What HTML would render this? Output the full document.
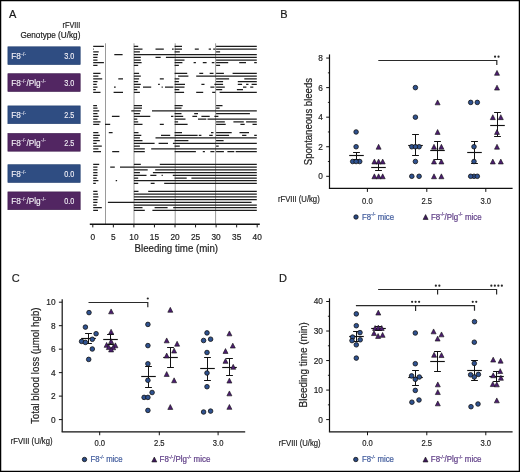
<!DOCTYPE html>
<html><head><meta charset="utf-8"><style>
html,body{margin:0;padding:0;background:#fff;}
body{width:520px;height:472px;overflow:hidden;}
svg{display:block;font-family:"Liberation Sans", sans-serif;will-change:transform;}
</style></head><body>
<svg width="520" height="472" viewBox="0 0 520 472">
<rect x="0" y="0" width="520" height="472" fill="#fff"/>
<text x="9" y="18" font-size="11" text-anchor="start" fill="#1a1a1a"  stroke="#1a1a1a" stroke-width="0.18">A</text>
<text x="80.4" y="28.2" font-size="8.2" text-anchor="end" fill="#1a1a1a" textLength="17.8" lengthAdjust="spacingAndGlyphs"  stroke="#1a1a1a" stroke-width="0.18">rFVIII</text>
<text x="80.4" y="38.3" font-size="8.2" text-anchor="end" fill="#1a1a1a" textLength="60.0" lengthAdjust="spacingAndGlyphs"  stroke="#1a1a1a" stroke-width="0.18">Genotype (U/kg)</text>
<rect x="7.9" y="46.8" width="72.3" height="17.8" fill="#2f4d82" stroke="#223f6e" stroke-width="0.6"/>
<text transform="translate(11.3 59.25) scale(0.93 1)" font-size="8.9" fill="#f4f2f8" stroke="#f4f2f8" stroke-width="0.12">F8<tspan font-size="5.0" dx="0.3" dy="-3.6" letter-spacing="0.3">-/-</tspan></text>
<text transform="translate(74.4 59.25) scale(0.82 1)" font-size="8.9" text-anchor="end" fill="#f4f2f8"  stroke="#f4f2f8" stroke-width="0.12">3.0</text>
<rect x="7.9" y="73.7" width="72.3" height="17.8" fill="#522662" stroke="#3d1a4c" stroke-width="0.6"/>
<text transform="translate(11.3 86.15) scale(0.93 1)" font-size="8.9" fill="#f4f2f8" stroke="#f4f2f8" stroke-width="0.12">F8<tspan font-size="5.0" dx="0.3" dy="-3.6" letter-spacing="0.3">-/-</tspan><tspan dy="3.6">/Plg</tspan><tspan font-size="5.0" dx="0.3" dy="-3.6" letter-spacing="0.3">-/-</tspan></text>
<text transform="translate(74.4 86.15) scale(0.82 1)" font-size="8.9" text-anchor="end" fill="#f4f2f8"  stroke="#f4f2f8" stroke-width="0.12">3.0</text>
<rect x="7.9" y="105.89999999999999" width="72.3" height="17.8" fill="#2f4d82" stroke="#223f6e" stroke-width="0.6"/>
<text transform="translate(11.3 118.35) scale(0.93 1)" font-size="8.9" fill="#f4f2f8" stroke="#f4f2f8" stroke-width="0.12">F8<tspan font-size="5.0" dx="0.3" dy="-3.6" letter-spacing="0.3">-/-</tspan></text>
<text transform="translate(74.4 118.35) scale(0.82 1)" font-size="8.9" text-anchor="end" fill="#f4f2f8"  stroke="#f4f2f8" stroke-width="0.12">2.5</text>
<rect x="7.9" y="133.4" width="72.3" height="17.8" fill="#522662" stroke="#3d1a4c" stroke-width="0.6"/>
<text transform="translate(11.3 145.85) scale(0.93 1)" font-size="8.9" fill="#f4f2f8" stroke="#f4f2f8" stroke-width="0.12">F8<tspan font-size="5.0" dx="0.3" dy="-3.6" letter-spacing="0.3">-/-</tspan><tspan dy="3.6">/Plg</tspan><tspan font-size="5.0" dx="0.3" dy="-3.6" letter-spacing="0.3">-/-</tspan></text>
<text transform="translate(74.4 145.85) scale(0.82 1)" font-size="8.9" text-anchor="end" fill="#f4f2f8"  stroke="#f4f2f8" stroke-width="0.12">2.5</text>
<rect x="7.9" y="164.70000000000002" width="72.3" height="17.8" fill="#2f4d82" stroke="#223f6e" stroke-width="0.6"/>
<text transform="translate(11.3 177.15) scale(0.93 1)" font-size="8.9" fill="#f4f2f8" stroke="#f4f2f8" stroke-width="0.12">F8<tspan font-size="5.0" dx="0.3" dy="-3.6" letter-spacing="0.3">-/-</tspan></text>
<text transform="translate(74.4 177.15) scale(0.82 1)" font-size="8.9" text-anchor="end" fill="#f4f2f8"  stroke="#f4f2f8" stroke-width="0.12">0.0</text>
<rect x="7.9" y="191.9" width="72.3" height="17.8" fill="#522662" stroke="#3d1a4c" stroke-width="0.6"/>
<text transform="translate(11.3 204.35) scale(0.93 1)" font-size="8.9" fill="#f4f2f8" stroke="#f4f2f8" stroke-width="0.12">F8<tspan font-size="5.0" dx="0.3" dy="-3.6" letter-spacing="0.3">-/-</tspan><tspan dy="3.6">/Plg</tspan><tspan font-size="5.0" dx="0.3" dy="-3.6" letter-spacing="0.3">-/-</tspan></text>
<text transform="translate(74.4 204.35) scale(0.82 1)" font-size="8.9" text-anchor="end" fill="#f4f2f8"  stroke="#f4f2f8" stroke-width="0.12">0.0</text>
<line x1="105.5" y1="43.3" x2="105.5" y2="224" stroke="#9a9a9a" stroke-width="1.0"/>
<line x1="134.0" y1="43.3" x2="134.0" y2="224" stroke="#9a9a9a" stroke-width="1.0"/>
<line x1="175.2" y1="43.3" x2="175.2" y2="224" stroke="#9a9a9a" stroke-width="1.0"/>
<line x1="215.6" y1="43.3" x2="215.6" y2="224" stroke="#9a9a9a" stroke-width="1.0"/>
<path d="M93.2 46.45H103.9M133.9 46.45H138.2M174.6 46.45H182M216.1 46.45H256.8M93.2 49.16H93.9M133.9 49.16H142.5M155.5 49.16H163.8M172 49.16H173.7M174.6 49.16H182M194.8 49.16H198.8M208.7 49.16H211M213.2 49.16H215.3M216.1 49.16H256.8M93.2 51.87H98.7M133.9 51.87H139.9M174.6 51.87H179.8M216.1 51.87H220.1M93.2 54.58H98M114.3 54.58H122.6M133.9 54.58H256.8M93.2 57.29H97.5M133.9 57.29H140.8M155.5 57.29H160.7M165.9 57.29H256.8M93.2 60.0H97.5M133.9 60.0H140.8M174.6 60.0H184.5M216.1 60.0H256.8M93.2 62.71H103.9M133.9 62.71H141.6M174.6 62.71H182.4M193.6 62.71H195.9M202.8 62.71H206.6M211.8 62.71H214.4M216.1 62.71H228.2M239.2 62.71H246M254.2 62.71H256.8M93.2 65.42H97.5M133.9 65.42H138.2M174.6 65.42H178.9M216.1 65.42H220.1M93.2 73.45H100.5M133.9 73.45H139.1M174.6 73.45H187.2M199.3 73.45H203.2M209.7 73.45H213.5M216.1 73.45H223.9M232.6 73.45H256.8M93.2 76.16H98.4M133.9 76.16H140.8M178.1 76.16H188.4M196.2 76.16H256.8M93.2 78.87H102.2M118.3 78.87H123M133.9 78.87H139.1M159.8 78.87H163.8M174.6 78.87H179.3M216.1 78.87H229.1M244.3 78.87H256.8M93.2 81.58H97.5M133.9 81.58H138.2M174.6 81.58H178.9M216.1 81.58H223.1M237.8 81.58H256.8M93.2 84.29H96.7M133.9 84.29H140.8M158.1 84.29H159.8M174.6 84.29H185M201.4 84.29H204.5M214.4 84.29H223.1M237.8 84.29H242.1M246.1 84.29H248.5M251.6 84.29H256.8M93.2 87.0H97.5M114 87.0H115.7M133.9 87.0H139.9M143 87.0H151.2M161.6 87.0H162.8M165 87.0H173.4M174.6 87.0H184.5M210.4 87.0H214.4M216.1 87.0H224.8M243 87.0H246.4M250.2 87.0H253.3M93.2 89.71H95.8M133.9 89.71H137.3M174.6 89.71H179.3M216.1 89.71H222.2M236.9 89.71H243M93.2 92.42H100.5M113.6 92.42H123M133.9 92.42H139.9M174.6 92.42H184.1M196.2 92.42H203.2M212.2 92.42H215.3M219.6 92.42H256.8M93.2 105.5H97M133.9 105.5H142M174.6 105.5H182.7M216.1 105.5H222.5M93.2 108.21H97.5M133.9 108.21H142M174.6 108.21H181.5M216.1 108.21H219.6M93.2 110.92H99.2M131.3 110.92H140.8M152 110.92H256.8M93.2 113.63H97.5M133.9 113.63H139.9M174.6 113.63H181.5M194.2 113.63H198M216.1 113.63H249.9M93.2 116.34H98.7M111.9 116.34H119.5M133.9 116.34H150.3M171 116.34H173.4M174.6 116.34H183.2M192.4 116.34H197.1M201.4 116.34H209.7M214.4 116.34H218.4M93.2 119.05H97.5M133.9 119.05H137.3M174.6 119.05H185.5M198 119.05H206.3M207.5 119.05H256.8M93.2 121.76H100.5M133.9 121.76H138.2M174.6 121.76H178.1M216.1 121.76H224.8M233.4 121.76H243.8M246.1 121.76H256.8M93.2 124.47H99.3M105 124.47H110.2M133.9 124.47H142.5M159.8 124.47H163.8M174.6 124.47H187.6M216.1 124.47H225.7M240.4 124.47H244.7M252.5 124.47H256.8M93.2 132.55H98.4M108.8 132.55H112.6M133.9 132.55H138.5M174.6 132.55H182M211 132.55H213.5M216.1 132.55H231.7M239.5 132.55H249M93.2 135.26H99.8M133.9 135.26H141.3M161 135.26H170.2M174.6 135.26H197.6M198.8 135.26H201.4M209.2 135.26H212.7M216.1 135.26H229.1M242.1 135.26H246.4M254.2 135.26H256.8M93.2 137.97H98.4M133.9 137.97H139.9M155.5 137.97H256.8M93.2 140.68H99.8M133.9 140.68H142.5M174.6 140.68H188.4M216.1 140.68H223.6M93.2 143.39H96.7M133.9 143.39H154.6M158.6 143.39H168M172.9 143.39H256.8M93.2 146.1H101.8M133.9 146.1H139.9M174.6 146.1H179.8M216.1 146.1H218.7M93.2 148.81H98.4M133.9 148.81H144.8M151.2 148.81H256.8M93.2 151.52H101M112.2 151.52H119.2M133.9 151.52H144.8M174.6 151.52H195.9M202.8 151.52H204.9M210.4 151.52H214.4M216.1 151.52H223.9M227.4 151.52H234.3M235.7 151.52H256.8M93.2 164.45H99.2M133.9 164.45H140.8M159.8 164.45H256.8M93.2 167.16H97.5M110.2 167.16H114.8M120 167.16H256.8M93.2 169.87H97.5M133.9 169.87H147.7M155.2 169.87H256.8M93.2 172.58H97.5M133.9 172.58H139.9M152.9 172.58H256.8M93.2 175.29H97.5M133.9 175.29H146.5M150.3 175.29H156.4M161.6 175.29H162.8M172.8 175.29H256.8M93.2 178.0H96.7M133.9 178.0H138.2M174.6 178.0H186.7M191.4 178.0H256.8M93.2 180.71H98.4M115.7 180.71H117.1M133.9 180.71H256.8M93.2 183.42H95.8M133.9 183.42H138.2M150.7 183.42H154.6M164.2 183.42H256.8M93.2 191.45H97.5M133.9 191.45H138.5M148.2 191.45H256.8M93.2 194.16H98M133.9 194.16H256.8M93.2 196.87H98.4M133.9 196.87H256.8M93.2 199.58H97.5M133.9 199.58H256.8M93.2 202.29H97.5M107.9 202.29H251.6M93.2 205.0H96.7M133.9 205.0H256.8M93.2 207.71H101.8M133.9 207.71H142.5M154.6 207.71H167.6M173.2 207.71H256.8M93.2 210.42H98M133.9 210.42H144.8M152.4 210.42H256.8" stroke="#1c1c1c" stroke-width="1.25" fill="none"/>
<line x1="89.8" y1="224.2" x2="259.8" y2="224.2" stroke="#111" stroke-width="1.5"/>
<line x1="92.8" y1="224.1" x2="92.8" y2="227.4" stroke="#151515" stroke-width="1.0"/>
<text x="92.8" y="239.5" font-size="8.3" text-anchor="middle" fill="#1e1e1e"  stroke="#1e1e1e" stroke-width="0.18">0</text>
<line x1="113.35" y1="224.1" x2="113.35" y2="227.4" stroke="#151515" stroke-width="1.0"/>
<text x="113.35" y="239.5" font-size="8.3" text-anchor="middle" fill="#1e1e1e"  stroke="#1e1e1e" stroke-width="0.18">5</text>
<line x1="133.9" y1="224.1" x2="133.9" y2="227.4" stroke="#151515" stroke-width="1.0"/>
<text x="133.9" y="239.5" font-size="8.3" text-anchor="middle" fill="#1e1e1e"  stroke="#1e1e1e" stroke-width="0.18">10</text>
<line x1="154.45" y1="224.1" x2="154.45" y2="227.4" stroke="#151515" stroke-width="1.0"/>
<text x="154.45" y="239.5" font-size="8.3" text-anchor="middle" fill="#1e1e1e"  stroke="#1e1e1e" stroke-width="0.18">15</text>
<line x1="175.0" y1="224.1" x2="175.0" y2="227.4" stroke="#151515" stroke-width="1.0"/>
<text x="175.0" y="239.5" font-size="8.3" text-anchor="middle" fill="#1e1e1e"  stroke="#1e1e1e" stroke-width="0.18">20</text>
<line x1="195.55" y1="224.1" x2="195.55" y2="227.4" stroke="#151515" stroke-width="1.0"/>
<text x="195.55" y="239.5" font-size="8.3" text-anchor="middle" fill="#1e1e1e"  stroke="#1e1e1e" stroke-width="0.18">25</text>
<line x1="216.1" y1="224.1" x2="216.1" y2="227.4" stroke="#151515" stroke-width="1.0"/>
<text x="216.1" y="239.5" font-size="8.3" text-anchor="middle" fill="#1e1e1e"  stroke="#1e1e1e" stroke-width="0.18">30</text>
<line x1="236.65" y1="224.1" x2="236.65" y2="227.4" stroke="#151515" stroke-width="1.0"/>
<text x="236.65" y="239.5" font-size="8.3" text-anchor="middle" fill="#1e1e1e"  stroke="#1e1e1e" stroke-width="0.18">35</text>
<line x1="257.2" y1="224.1" x2="257.2" y2="227.4" stroke="#151515" stroke-width="1.0"/>
<text x="257.2" y="239.5" font-size="8.3" text-anchor="middle" fill="#1e1e1e"  stroke="#1e1e1e" stroke-width="0.18">40</text>
<text x="134.5" y="251.9" font-size="10.3" text-anchor="start" fill="#1e1e1e" textLength="83.6" lengthAdjust="spacingAndGlyphs" stroke="#1e1e1e" stroke-width="0.2">Bleeding time (min)</text>
<text x="280.2" y="18.2" font-size="11" text-anchor="start" fill="#1a1a1a"  stroke="#1a1a1a" stroke-width="0.18">B</text>
<line x1="329.5" y1="54.4" x2="329.5" y2="188.4" stroke="#111" stroke-width="1.2"/>
<line x1="328.9" y1="188.4" x2="512.6" y2="188.4" stroke="#111" stroke-width="1.25"/>
<line x1="326.2" y1="176.3" x2="329.5" y2="176.3" stroke="#111" stroke-width="1.0"/>
<text x="322.9" y="179.25" font-size="8.3" text-anchor="end" fill="#1e1e1e"  stroke="#1e1e1e" stroke-width="0.18">0</text>
<line x1="326.2" y1="146.74" x2="329.5" y2="146.74" stroke="#111" stroke-width="1.0"/>
<text x="322.9" y="149.69" font-size="8.3" text-anchor="end" fill="#1e1e1e"  stroke="#1e1e1e" stroke-width="0.18">2</text>
<line x1="326.2" y1="117.18" x2="329.5" y2="117.18" stroke="#111" stroke-width="1.0"/>
<text x="322.9" y="120.13" font-size="8.3" text-anchor="end" fill="#1e1e1e"  stroke="#1e1e1e" stroke-width="0.18">4</text>
<line x1="326.2" y1="87.62" x2="329.5" y2="87.62" stroke="#111" stroke-width="1.0"/>
<text x="322.9" y="90.57" font-size="8.3" text-anchor="end" fill="#1e1e1e"  stroke="#1e1e1e" stroke-width="0.18">6</text>
<line x1="326.2" y1="58.06" x2="329.5" y2="58.06" stroke="#111" stroke-width="1.0"/>
<text x="322.9" y="61.01" font-size="8.3" text-anchor="end" fill="#1e1e1e"  stroke="#1e1e1e" stroke-width="0.18">8</text>
<line x1="327.9" y1="161.52" x2="329.5" y2="161.52" stroke="#111" stroke-width="0.9"/>
<line x1="327.9" y1="131.96" x2="329.5" y2="131.96" stroke="#111" stroke-width="0.9"/>
<line x1="327.9" y1="102.4" x2="329.5" y2="102.4" stroke="#111" stroke-width="0.9"/>
<line x1="327.9" y1="72.84" x2="329.5" y2="72.84" stroke="#111" stroke-width="0.9"/>
<line x1="367.4" y1="188.4" x2="367.4" y2="191.9" stroke="#111" stroke-width="1.0"/>
<line x1="426.8" y1="188.4" x2="426.8" y2="191.9" stroke="#111" stroke-width="1.0"/>
<line x1="485.8" y1="188.4" x2="485.8" y2="191.9" stroke="#111" stroke-width="1.0"/>
<text x="367.4" y="203.8" font-size="8.4" text-anchor="middle" fill="#1e1e1e" textLength="10.6" lengthAdjust="spacingAndGlyphs"  stroke="#1e1e1e" stroke-width="0.18">0.0</text>
<text x="426.8" y="203.8" font-size="8.4" text-anchor="middle" fill="#1e1e1e" textLength="10.6" lengthAdjust="spacingAndGlyphs"  stroke="#1e1e1e" stroke-width="0.18">2.5</text>
<text x="485.8" y="203.8" font-size="8.4" text-anchor="middle" fill="#1e1e1e" textLength="10.6" lengthAdjust="spacingAndGlyphs"  stroke="#1e1e1e" stroke-width="0.18">3.0</text>
<text x="277.9" y="202.0" font-size="8.3" text-anchor="start" fill="#1e1e1e" textLength="41.8" lengthAdjust="spacingAndGlyphs"  stroke="#1e1e1e" stroke-width="0.18">rFVIII (U/kg)</text>
<text x="0" y="0" font-size="10.3" fill="#1e1e1e" stroke="#1e1e1e" stroke-width="0.2" text-anchor="middle" textLength="87.2" lengthAdjust="spacingAndGlyphs" transform="translate(312.1,121.6) rotate(-90)">Spontaneous bleeds</text>
<path d="M378.3 60.5H496.8V65.1" stroke="#2a2a2a" stroke-width="1.2" fill="none"/>
<circle cx="495.05" cy="56.7" r="1.1" fill="#262626"/>
<circle cx="498.55" cy="56.7" r="1.1" fill="#262626"/>
<line x1="349.2" y1="155.5" x2="363.8" y2="155.5" stroke="#111" stroke-width="1.15"/>
<line x1="356.5" y1="152.5" x2="356.5" y2="159.5" stroke="#111" stroke-width="1.0"/>
<line x1="353.1" y1="152.5" x2="359.9" y2="152.5" stroke="#111" stroke-width="1.0"/>
<line x1="353.1" y1="159.5" x2="359.9" y2="159.5" stroke="#111" stroke-width="1.0"/>
<line x1="371.2" y1="167.5" x2="385.8" y2="167.5" stroke="#111" stroke-width="1.15"/>
<line x1="378.5" y1="163.5" x2="378.5" y2="170.5" stroke="#111" stroke-width="1.0"/>
<line x1="375.1" y1="163.5" x2="381.9" y2="163.5" stroke="#111" stroke-width="1.0"/>
<line x1="375.1" y1="170.5" x2="381.9" y2="170.5" stroke="#111" stroke-width="1.0"/>
<line x1="408.2" y1="145.5" x2="422.8" y2="145.5" stroke="#111" stroke-width="1.15"/>
<line x1="415.5" y1="134.5" x2="415.5" y2="155.5" stroke="#111" stroke-width="1.0"/>
<line x1="412.1" y1="134.5" x2="418.9" y2="134.5" stroke="#111" stroke-width="1.0"/>
<line x1="412.1" y1="155.5" x2="418.9" y2="155.5" stroke="#111" stroke-width="1.0"/>
<line x1="430.2" y1="150.5" x2="444.8" y2="150.5" stroke="#111" stroke-width="1.15"/>
<line x1="437.5" y1="141.5" x2="437.5" y2="159.5" stroke="#111" stroke-width="1.0"/>
<line x1="434.1" y1="141.5" x2="440.9" y2="141.5" stroke="#111" stroke-width="1.0"/>
<line x1="434.1" y1="159.5" x2="440.9" y2="159.5" stroke="#111" stroke-width="1.0"/>
<line x1="467.2" y1="152.5" x2="481.8" y2="152.5" stroke="#111" stroke-width="1.15"/>
<line x1="474.5" y1="141.5" x2="474.5" y2="163.5" stroke="#111" stroke-width="1.0"/>
<line x1="471.1" y1="141.5" x2="477.9" y2="141.5" stroke="#111" stroke-width="1.0"/>
<line x1="471.1" y1="163.5" x2="477.9" y2="163.5" stroke="#111" stroke-width="1.0"/>
<line x1="490.2" y1="125.5" x2="504.8" y2="125.5" stroke="#111" stroke-width="1.15"/>
<line x1="497.5" y1="112.5" x2="497.5" y2="136.5" stroke="#111" stroke-width="1.0"/>
<line x1="494.1" y1="112.5" x2="500.9" y2="112.5" stroke="#111" stroke-width="1.0"/>
<line x1="494.1" y1="136.5" x2="500.9" y2="136.5" stroke="#111" stroke-width="1.0"/>
<text transform="translate(362.1 219.7) scale(0.95 1)" font-size="8.2" fill="#445e9e" stroke="#445e9e" stroke-width="0.22">F8<tspan font-size="4.8" dy="-3.6">-/-</tspan><tspan dy="3.6"> mice</tspan></text>
<text transform="translate(430.90000000000003 219.7) scale(0.97 1)" font-size="8.2" fill="#63438a" stroke="#63438a" stroke-width="0.22">F8<tspan font-size="4.8" dy="-3.6">-/-</tspan><tspan dy="3.6">/Plg</tspan><tspan font-size="4.8" dy="-3.6">-/-</tspan><tspan dy="3.6"> mice</tspan></text>
<text x="11.8" y="282" font-size="11" text-anchor="start" fill="#1a1a1a"  stroke="#1a1a1a" stroke-width="0.18">C</text>
<line x1="62.2" y1="299.2" x2="62.2" y2="431.75" stroke="#111" stroke-width="1.2"/>
<line x1="61.6" y1="431.75" x2="245.2" y2="431.75" stroke="#111" stroke-width="1.25"/>
<line x1="58.900000000000006" y1="419.6" x2="62.2" y2="419.6" stroke="#111" stroke-width="1.0"/>
<text x="55.6" y="422.55" font-size="8.3" text-anchor="end" fill="#1e1e1e"  stroke="#1e1e1e" stroke-width="0.18">0</text>
<line x1="58.900000000000006" y1="396.12" x2="62.2" y2="396.12" stroke="#111" stroke-width="1.0"/>
<text x="55.6" y="399.07" font-size="8.3" text-anchor="end" fill="#1e1e1e"  stroke="#1e1e1e" stroke-width="0.18">2</text>
<line x1="58.900000000000006" y1="372.64" x2="62.2" y2="372.64" stroke="#111" stroke-width="1.0"/>
<text x="55.6" y="375.59" font-size="8.3" text-anchor="end" fill="#1e1e1e"  stroke="#1e1e1e" stroke-width="0.18">4</text>
<line x1="58.900000000000006" y1="349.16" x2="62.2" y2="349.16" stroke="#111" stroke-width="1.0"/>
<text x="55.6" y="352.11" font-size="8.3" text-anchor="end" fill="#1e1e1e"  stroke="#1e1e1e" stroke-width="0.18">6</text>
<line x1="58.900000000000006" y1="325.68" x2="62.2" y2="325.68" stroke="#111" stroke-width="1.0"/>
<text x="55.6" y="328.63" font-size="8.3" text-anchor="end" fill="#1e1e1e"  stroke="#1e1e1e" stroke-width="0.18">8</text>
<line x1="58.900000000000006" y1="302.2" x2="62.2" y2="302.2" stroke="#111" stroke-width="1.0"/>
<text x="55.6" y="305.15" font-size="8.3" text-anchor="end" fill="#1e1e1e"  stroke="#1e1e1e" stroke-width="0.18">10</text>
<line x1="99.7" y1="431.75" x2="99.7" y2="435.25" stroke="#111" stroke-width="1.0"/>
<line x1="159.3" y1="431.75" x2="159.3" y2="435.25" stroke="#111" stroke-width="1.0"/>
<line x1="218.1" y1="431.75" x2="218.1" y2="435.25" stroke="#111" stroke-width="1.0"/>
<text x="99.7" y="445.6" font-size="8.4" text-anchor="middle" fill="#1e1e1e" textLength="10.6" lengthAdjust="spacingAndGlyphs"  stroke="#1e1e1e" stroke-width="0.18">0.0</text>
<text x="159.3" y="445.6" font-size="8.4" text-anchor="middle" fill="#1e1e1e" textLength="10.6" lengthAdjust="spacingAndGlyphs"  stroke="#1e1e1e" stroke-width="0.18">2.5</text>
<text x="218.1" y="445.6" font-size="8.4" text-anchor="middle" fill="#1e1e1e" textLength="10.6" lengthAdjust="spacingAndGlyphs"  stroke="#1e1e1e" stroke-width="0.18">3.0</text>
<text x="10.7" y="444.3" font-size="8.3" text-anchor="start" fill="#1e1e1e" textLength="41.8" lengthAdjust="spacingAndGlyphs"  stroke="#1e1e1e" stroke-width="0.18">rFVIII (U/kg)</text>
<text x="0" y="0" font-size="10.3" fill="#1e1e1e" stroke="#1e1e1e" stroke-width="0.2" text-anchor="middle" textLength="116.6" lengthAdjust="spacingAndGlyphs" transform="translate(39.4,365.7) rotate(-90)">Total blood loss (µmol hgb)</text>
<path d="M88.5 302.5H147.8V307.2" stroke="#2a2a2a" stroke-width="1.2" fill="none"/>
<circle cx="147.80" cy="298.5" r="1.1" fill="#262626"/>
<line x1="81.2" y1="338.5" x2="95.8" y2="338.5" stroke="#111" stroke-width="1.15"/>
<line x1="88.5" y1="333.5" x2="88.5" y2="343.5" stroke="#111" stroke-width="1.0"/>
<line x1="85.1" y1="333.5" x2="91.9" y2="333.5" stroke="#111" stroke-width="1.0"/>
<line x1="85.1" y1="343.5" x2="91.9" y2="343.5" stroke="#111" stroke-width="1.0"/>
<line x1="103.2" y1="339.5" x2="117.8" y2="339.5" stroke="#111" stroke-width="1.15"/>
<line x1="110.5" y1="334.5" x2="110.5" y2="344.5" stroke="#111" stroke-width="1.0"/>
<line x1="107.1" y1="334.5" x2="113.9" y2="334.5" stroke="#111" stroke-width="1.0"/>
<line x1="107.1" y1="344.5" x2="113.9" y2="344.5" stroke="#111" stroke-width="1.0"/>
<line x1="141.2" y1="376.5" x2="155.8" y2="376.5" stroke="#111" stroke-width="1.15"/>
<line x1="148.5" y1="366.5" x2="148.5" y2="387.5" stroke="#111" stroke-width="1.0"/>
<line x1="145.1" y1="366.5" x2="151.9" y2="366.5" stroke="#111" stroke-width="1.0"/>
<line x1="145.1" y1="387.5" x2="151.9" y2="387.5" stroke="#111" stroke-width="1.0"/>
<line x1="163.2" y1="357.5" x2="177.8" y2="357.5" stroke="#111" stroke-width="1.15"/>
<line x1="170.5" y1="347.5" x2="170.5" y2="367.5" stroke="#111" stroke-width="1.0"/>
<line x1="167.1" y1="347.5" x2="173.9" y2="347.5" stroke="#111" stroke-width="1.0"/>
<line x1="167.1" y1="367.5" x2="173.9" y2="367.5" stroke="#111" stroke-width="1.0"/>
<line x1="200.2" y1="368.5" x2="214.8" y2="368.5" stroke="#111" stroke-width="1.15"/>
<line x1="207.5" y1="357.5" x2="207.5" y2="380.5" stroke="#111" stroke-width="1.0"/>
<line x1="204.1" y1="357.5" x2="210.9" y2="357.5" stroke="#111" stroke-width="1.0"/>
<line x1="204.1" y1="380.5" x2="210.9" y2="380.5" stroke="#111" stroke-width="1.0"/>
<line x1="222.2" y1="367.5" x2="236.8" y2="367.5" stroke="#111" stroke-width="1.15"/>
<line x1="229.5" y1="358.5" x2="229.5" y2="375.5" stroke="#111" stroke-width="1.0"/>
<line x1="226.1" y1="358.5" x2="232.9" y2="358.5" stroke="#111" stroke-width="1.0"/>
<line x1="226.1" y1="375.5" x2="232.9" y2="375.5" stroke="#111" stroke-width="1.0"/>
<text transform="translate(90.6 462.2) scale(0.95 1)" font-size="8.2" fill="#445e9e" stroke="#445e9e" stroke-width="0.22">F8<tspan font-size="4.8" dy="-3.6">-/-</tspan><tspan dy="3.6"> mice</tspan></text>
<text transform="translate(159.60000000000002 462.2) scale(0.97 1)" font-size="8.2" fill="#63438a" stroke="#63438a" stroke-width="0.22">F8<tspan font-size="4.8" dy="-3.6">-/-</tspan><tspan dy="3.6">/Plg</tspan><tspan font-size="4.8" dy="-3.6">-/-</tspan><tspan dy="3.6"> mice</tspan></text>
<text x="279.0" y="281.8" font-size="11" text-anchor="start" fill="#1a1a1a"  stroke="#1a1a1a" stroke-width="0.18">D</text>
<line x1="329.5" y1="298.3" x2="329.5" y2="431.75" stroke="#111" stroke-width="1.2"/>
<line x1="328.9" y1="431.75" x2="512.6" y2="431.75" stroke="#111" stroke-width="1.25"/>
<line x1="326.2" y1="419.6" x2="329.5" y2="419.6" stroke="#111" stroke-width="1.0"/>
<text x="322.9" y="422.55" font-size="8.3" text-anchor="end" fill="#1e1e1e"  stroke="#1e1e1e" stroke-width="0.18">0</text>
<line x1="326.2" y1="390.08" x2="329.5" y2="390.08" stroke="#111" stroke-width="1.0"/>
<text x="322.9" y="393.03" font-size="8.3" text-anchor="end" fill="#1e1e1e"  stroke="#1e1e1e" stroke-width="0.18">10</text>
<line x1="326.2" y1="360.55" x2="329.5" y2="360.55" stroke="#111" stroke-width="1.0"/>
<text x="322.9" y="363.5" font-size="8.3" text-anchor="end" fill="#1e1e1e"  stroke="#1e1e1e" stroke-width="0.18">20</text>
<line x1="326.2" y1="331.03" x2="329.5" y2="331.03" stroke="#111" stroke-width="1.0"/>
<text x="322.9" y="333.98" font-size="8.3" text-anchor="end" fill="#1e1e1e"  stroke="#1e1e1e" stroke-width="0.18">30</text>
<line x1="326.2" y1="301.5" x2="329.5" y2="301.5" stroke="#111" stroke-width="1.0"/>
<text x="322.9" y="304.45" font-size="8.3" text-anchor="end" fill="#1e1e1e"  stroke="#1e1e1e" stroke-width="0.18">40</text>
<line x1="327.9" y1="404.84" x2="329.5" y2="404.84" stroke="#111" stroke-width="0.9"/>
<line x1="327.9" y1="375.31" x2="329.5" y2="375.31" stroke="#111" stroke-width="0.9"/>
<line x1="327.9" y1="345.79" x2="329.5" y2="345.79" stroke="#111" stroke-width="0.9"/>
<line x1="327.9" y1="316.26" x2="329.5" y2="316.26" stroke="#111" stroke-width="0.9"/>
<line x1="367.5" y1="431.75" x2="367.5" y2="435.25" stroke="#111" stroke-width="1.0"/>
<line x1="426.8" y1="431.75" x2="426.8" y2="435.25" stroke="#111" stroke-width="1.0"/>
<line x1="485.8" y1="431.75" x2="485.8" y2="435.25" stroke="#111" stroke-width="1.0"/>
<text x="367.5" y="445.6" font-size="8.4" text-anchor="middle" fill="#1e1e1e" textLength="10.6" lengthAdjust="spacingAndGlyphs"  stroke="#1e1e1e" stroke-width="0.18">0.0</text>
<text x="426.8" y="445.6" font-size="8.4" text-anchor="middle" fill="#1e1e1e" textLength="10.6" lengthAdjust="spacingAndGlyphs"  stroke="#1e1e1e" stroke-width="0.18">2.5</text>
<text x="485.8" y="445.6" font-size="8.4" text-anchor="middle" fill="#1e1e1e" textLength="10.6" lengthAdjust="spacingAndGlyphs"  stroke="#1e1e1e" stroke-width="0.18">3.0</text>
<text x="278.8" y="445.5" font-size="8.3" text-anchor="start" fill="#1e1e1e" textLength="41.8" lengthAdjust="spacingAndGlyphs"  stroke="#1e1e1e" stroke-width="0.18">rFVIII (U/kg)</text>
<text x="0" y="0" font-size="10.3" fill="#1e1e1e" stroke="#1e1e1e" stroke-width="0.2" text-anchor="middle" textLength="85.2" lengthAdjust="spacingAndGlyphs" transform="translate(306.9,364.8) rotate(-90)">Bleeding time (min)</text>
<path d="M378.1 289.5H496.6V294.6" stroke="#2a2a2a" stroke-width="1.2" fill="none"/>
<circle cx="491.35" cy="285.7" r="1.1" fill="#262626"/>
<circle cx="494.85" cy="285.7" r="1.1" fill="#262626"/>
<circle cx="498.35" cy="285.7" r="1.1" fill="#262626"/>
<circle cx="501.85" cy="285.7" r="1.1" fill="#262626"/>
<path d="M355.9 305.7H474.5V310.8" stroke="#2a2a2a" stroke-width="1.2" fill="none"/>
<circle cx="472.75" cy="301.8" r="1.1" fill="#262626"/>
<circle cx="476.25" cy="301.8" r="1.1" fill="#262626"/>
<path d="M437.6 289.5V294.6M415.6 305.7V310.9" stroke="#222" stroke-width="1.15"/>
<circle cx="435.85" cy="285.7" r="1.1" fill="#262626"/>
<circle cx="439.35" cy="285.7" r="1.1" fill="#262626"/>
<circle cx="412.10" cy="301.8" r="1.1" fill="#262626"/>
<circle cx="415.60" cy="301.8" r="1.1" fill="#262626"/>
<circle cx="419.10" cy="301.8" r="1.1" fill="#262626"/>
<line x1="349.2" y1="336.5" x2="363.8" y2="336.5" stroke="#111" stroke-width="1.15"/>
<line x1="356.5" y1="331.5" x2="356.5" y2="341.5" stroke="#111" stroke-width="1.0"/>
<line x1="353.1" y1="331.5" x2="359.9" y2="331.5" stroke="#111" stroke-width="1.0"/>
<line x1="353.1" y1="341.5" x2="359.9" y2="341.5" stroke="#111" stroke-width="1.0"/>
<line x1="371.2" y1="328.5" x2="385.8" y2="328.5" stroke="#111" stroke-width="1.15"/>
<line x1="378.5" y1="326.5" x2="378.5" y2="330.5" stroke="#111" stroke-width="1.0"/>
<line x1="375.1" y1="326.5" x2="381.9" y2="326.5" stroke="#111" stroke-width="1.0"/>
<line x1="375.1" y1="330.5" x2="381.9" y2="330.5" stroke="#111" stroke-width="1.0"/>
<line x1="408.2" y1="377.5" x2="422.8" y2="377.5" stroke="#111" stroke-width="1.15"/>
<line x1="415.5" y1="370.5" x2="415.5" y2="385.5" stroke="#111" stroke-width="1.0"/>
<line x1="412.1" y1="370.5" x2="418.9" y2="370.5" stroke="#111" stroke-width="1.0"/>
<line x1="412.1" y1="385.5" x2="418.9" y2="385.5" stroke="#111" stroke-width="1.0"/>
<line x1="430.2" y1="361.5" x2="444.8" y2="361.5" stroke="#111" stroke-width="1.15"/>
<line x1="437.5" y1="351.5" x2="437.5" y2="371.5" stroke="#111" stroke-width="1.0"/>
<line x1="434.1" y1="351.5" x2="440.9" y2="351.5" stroke="#111" stroke-width="1.0"/>
<line x1="434.1" y1="371.5" x2="440.9" y2="371.5" stroke="#111" stroke-width="1.0"/>
<line x1="467.2" y1="370.5" x2="481.8" y2="370.5" stroke="#111" stroke-width="1.15"/>
<line x1="474.5" y1="360.5" x2="474.5" y2="380.5" stroke="#111" stroke-width="1.0"/>
<line x1="471.1" y1="360.5" x2="477.9" y2="360.5" stroke="#111" stroke-width="1.0"/>
<line x1="471.1" y1="380.5" x2="477.9" y2="380.5" stroke="#111" stroke-width="1.0"/>
<line x1="489.2" y1="376.5" x2="503.8" y2="376.5" stroke="#111" stroke-width="1.15"/>
<line x1="496.5" y1="371.5" x2="496.5" y2="381.5" stroke="#111" stroke-width="1.0"/>
<line x1="493.1" y1="371.5" x2="499.9" y2="371.5" stroke="#111" stroke-width="1.0"/>
<line x1="493.1" y1="381.5" x2="499.9" y2="381.5" stroke="#111" stroke-width="1.0"/>
<text transform="translate(361.90000000000003 462.2) scale(0.95 1)" font-size="8.2" fill="#445e9e" stroke="#445e9e" stroke-width="0.22">F8<tspan font-size="4.8" dy="-3.6">-/-</tspan><tspan dy="3.6"> mice</tspan></text>
<text transform="translate(430.8 462.2) scale(0.97 1)" font-size="8.2" fill="#63438a" stroke="#63438a" stroke-width="0.22">F8<tspan font-size="4.8" dy="-3.6">-/-</tspan><tspan dy="3.6">/Plg</tspan><tspan font-size="4.8" dy="-3.6">-/-</tspan><tspan dy="3.6"> mice</tspan></text>
<circle cx="356.1" cy="131.96" r="2.3" fill="#2f5290" stroke="#111" stroke-width="0.8"/>
<circle cx="356.1" cy="146.74" r="2.3" fill="#2f5290" stroke="#111" stroke-width="0.8"/>
<circle cx="352.7" cy="161.52" r="2.3" fill="#2f5290" stroke="#111" stroke-width="0.8"/>
<circle cx="359.7" cy="161.52" r="2.3" fill="#2f5290" stroke="#111" stroke-width="0.8"/>
<circle cx="356.1" cy="161.52" r="2.3" fill="#2f5290" stroke="#111" stroke-width="0.8"/>
<path d="M378.6 144.29L381.10 149.19L376.10 149.19Z" fill="#4c1d70" stroke="#111" stroke-width="0.6" stroke-linejoin="round"/>
<path d="M374.4 159.07L376.90 163.97L371.90 163.97Z" fill="#4c1d70" stroke="#111" stroke-width="0.6" stroke-linejoin="round"/>
<path d="M382.7 159.07L385.20 163.97L380.20 163.97Z" fill="#4c1d70" stroke="#111" stroke-width="0.6" stroke-linejoin="round"/>
<path d="M378.6 159.07L381.10 163.97L376.10 163.97Z" fill="#4c1d70" stroke="#111" stroke-width="0.6" stroke-linejoin="round"/>
<path d="M374.4 173.85L376.90 178.75L371.90 178.75Z" fill="#4c1d70" stroke="#111" stroke-width="0.6" stroke-linejoin="round"/>
<path d="M382.7 173.85L385.20 178.75L380.20 178.75Z" fill="#4c1d70" stroke="#111" stroke-width="0.6" stroke-linejoin="round"/>
<path d="M378.6 173.85L381.10 178.75L376.10 178.75Z" fill="#4c1d70" stroke="#111" stroke-width="0.6" stroke-linejoin="round"/>
<circle cx="415.4" cy="87.62" r="2.3" fill="#2f5290" stroke="#111" stroke-width="0.8"/>
<circle cx="415.4" cy="117.18" r="2.3" fill="#2f5290" stroke="#111" stroke-width="0.8"/>
<circle cx="411.8" cy="146.74" r="2.3" fill="#2f5290" stroke="#111" stroke-width="0.8"/>
<circle cx="419.1" cy="146.74" r="2.3" fill="#2f5290" stroke="#111" stroke-width="0.8"/>
<circle cx="415.4" cy="146.74" r="2.3" fill="#2f5290" stroke="#111" stroke-width="0.8"/>
<circle cx="415.4" cy="161.52" r="2.3" fill="#2f5290" stroke="#111" stroke-width="0.8"/>
<circle cx="411.8" cy="176.3" r="2.3" fill="#2f5290" stroke="#111" stroke-width="0.8"/>
<circle cx="419.1" cy="176.3" r="2.3" fill="#2f5290" stroke="#111" stroke-width="0.8"/>
<path d="M437.6 99.95L440.10 104.85L435.10 104.85Z" fill="#4c1d70" stroke="#111" stroke-width="0.6" stroke-linejoin="round"/>
<path d="M437.6 129.51L440.10 134.41L435.10 134.41Z" fill="#4c1d70" stroke="#111" stroke-width="0.6" stroke-linejoin="round"/>
<path d="M434 144.29L436.50 149.19L431.50 149.19Z" fill="#4c1d70" stroke="#111" stroke-width="0.6" stroke-linejoin="round"/>
<path d="M441.4 144.29L443.90 149.19L438.90 149.19Z" fill="#4c1d70" stroke="#111" stroke-width="0.6" stroke-linejoin="round"/>
<path d="M434 159.07L436.50 163.97L431.50 163.97Z" fill="#4c1d70" stroke="#111" stroke-width="0.6" stroke-linejoin="round"/>
<path d="M441.4 159.07L443.90 163.97L438.90 163.97Z" fill="#4c1d70" stroke="#111" stroke-width="0.6" stroke-linejoin="round"/>
<path d="M434 173.85L436.50 178.75L431.50 178.75Z" fill="#4c1d70" stroke="#111" stroke-width="0.6" stroke-linejoin="round"/>
<path d="M441.4 173.85L443.90 178.75L438.90 178.75Z" fill="#4c1d70" stroke="#111" stroke-width="0.6" stroke-linejoin="round"/>
<circle cx="470.7" cy="102.4" r="2.3" fill="#2f5290" stroke="#111" stroke-width="0.8"/>
<circle cx="477.3" cy="102.4" r="2.3" fill="#2f5290" stroke="#111" stroke-width="0.8"/>
<circle cx="474" cy="176.3" r="2.3" fill="#2f5290" stroke="#111" stroke-width="0.8"/>
<circle cx="470.7" cy="176.3" r="2.3" fill="#2f5290" stroke="#111" stroke-width="0.8"/>
<circle cx="477.3" cy="176.3" r="2.3" fill="#2f5290" stroke="#111" stroke-width="0.8"/>
<circle cx="474" cy="146.74" r="2.3" fill="#2f5290" stroke="#111" stroke-width="0.8"/>
<circle cx="474" cy="161.52" r="2.3" fill="#2f5290" stroke="#111" stroke-width="0.8"/>
<path d="M497 70.39L499.50 75.29L494.50 75.29Z" fill="#4c1d70" stroke="#111" stroke-width="0.6" stroke-linejoin="round"/>
<path d="M497 85.17L499.50 90.07L494.50 90.07Z" fill="#4c1d70" stroke="#111" stroke-width="0.6" stroke-linejoin="round"/>
<path d="M492.8 114.73L495.30 119.63L490.30 119.63Z" fill="#4c1d70" stroke="#111" stroke-width="0.6" stroke-linejoin="round"/>
<path d="M500.8 114.73L503.30 119.63L498.30 119.63Z" fill="#4c1d70" stroke="#111" stroke-width="0.6" stroke-linejoin="round"/>
<path d="M497 129.51L499.50 134.41L494.50 134.41Z" fill="#4c1d70" stroke="#111" stroke-width="0.6" stroke-linejoin="round"/>
<path d="M497 144.29L499.50 149.19L494.50 149.19Z" fill="#4c1d70" stroke="#111" stroke-width="0.6" stroke-linejoin="round"/>
<path d="M492.8 159.07L495.30 163.97L490.30 163.97Z" fill="#4c1d70" stroke="#111" stroke-width="0.6" stroke-linejoin="round"/>
<path d="M500.8 159.07L503.30 163.97L498.30 163.97Z" fill="#4c1d70" stroke="#111" stroke-width="0.6" stroke-linejoin="round"/>
<circle cx="356.0" cy="217.0" r="2.2" fill="#2a4a86" stroke="#111" stroke-width="0.8"/>
<path d="M425.6 214.55L428.10 219.45L423.10 219.45Z" fill="#3f1a5e" stroke="#111" stroke-width="0.6" stroke-linejoin="round"/>
<circle cx="89" cy="312.6" r="2.3" fill="#2f5290" stroke="#111" stroke-width="0.8"/>
<circle cx="85.4" cy="327.1" r="2.3" fill="#2f5290" stroke="#111" stroke-width="0.8"/>
<circle cx="96.1" cy="333.7" r="2.3" fill="#2f5290" stroke="#111" stroke-width="0.8"/>
<circle cx="81.6" cy="341.4" r="2.3" fill="#2f5290" stroke="#111" stroke-width="0.8"/>
<circle cx="92.3" cy="339.3" r="2.3" fill="#2f5290" stroke="#111" stroke-width="0.8"/>
<circle cx="85.4" cy="342.4" r="2.3" fill="#2f5290" stroke="#111" stroke-width="0.8"/>
<circle cx="92.3" cy="349" r="2.3" fill="#2f5290" stroke="#111" stroke-width="0.8"/>
<circle cx="88.7" cy="359.4" r="2.3" fill="#2f5290" stroke="#111" stroke-width="0.8"/>
<path d="M111.1 308.95L113.60 313.85L108.60 313.85Z" fill="#4c1d70" stroke="#111" stroke-width="0.6" stroke-linejoin="round"/>
<path d="M111.1 329.25L113.60 334.15L108.60 334.15Z" fill="#4c1d70" stroke="#111" stroke-width="0.6" stroke-linejoin="round"/>
<path d="M111.1 338.75L113.60 343.65L108.60 343.65Z" fill="#4c1d70" stroke="#111" stroke-width="0.6" stroke-linejoin="round"/>
<path d="M106.6 342.45L109.10 347.35L104.10 347.35Z" fill="#4c1d70" stroke="#111" stroke-width="0.6" stroke-linejoin="round"/>
<path d="M115.4 342.85L117.90 347.75L112.90 347.75Z" fill="#4c1d70" stroke="#111" stroke-width="0.6" stroke-linejoin="round"/>
<path d="M108.8 344.65L111.30 349.55L106.30 349.55Z" fill="#4c1d70" stroke="#111" stroke-width="0.6" stroke-linejoin="round"/>
<path d="M113.2 344.85L115.70 349.75L110.70 349.75Z" fill="#4c1d70" stroke="#111" stroke-width="0.6" stroke-linejoin="round"/>
<path d="M111.1 347.05L113.60 351.95L108.60 351.95Z" fill="#4c1d70" stroke="#111" stroke-width="0.6" stroke-linejoin="round"/>
<circle cx="147.9" cy="324.4" r="2.3" fill="#2f5290" stroke="#111" stroke-width="0.8"/>
<circle cx="147.9" cy="345.6" r="2.3" fill="#2f5290" stroke="#111" stroke-width="0.8"/>
<circle cx="147.9" cy="363.8" r="2.3" fill="#2f5290" stroke="#111" stroke-width="0.8"/>
<circle cx="147.9" cy="380.3" r="2.3" fill="#2f5290" stroke="#111" stroke-width="0.8"/>
<circle cx="152.1" cy="392.5" r="2.3" fill="#2f5290" stroke="#111" stroke-width="0.8"/>
<circle cx="144.1" cy="397.4" r="2.3" fill="#2f5290" stroke="#111" stroke-width="0.8"/>
<circle cx="147.9" cy="397.4" r="2.3" fill="#2f5290" stroke="#111" stroke-width="0.8"/>
<circle cx="147.9" cy="410.4" r="2.3" fill="#2f5290" stroke="#111" stroke-width="0.8"/>
<path d="M170.3 307.35L172.80 312.25L167.80 312.25Z" fill="#4c1d70" stroke="#111" stroke-width="0.6" stroke-linejoin="round"/>
<path d="M166.7 337.95L169.20 342.85L164.20 342.85Z" fill="#4c1d70" stroke="#111" stroke-width="0.6" stroke-linejoin="round"/>
<path d="M177.1 341.25L179.60 346.15L174.60 346.15Z" fill="#4c1d70" stroke="#111" stroke-width="0.6" stroke-linejoin="round"/>
<path d="M174.1 348.15L176.60 353.05L171.60 353.05Z" fill="#4c1d70" stroke="#111" stroke-width="0.6" stroke-linejoin="round"/>
<path d="M166.7 353.05L169.20 357.95L164.20 357.95Z" fill="#4c1d70" stroke="#111" stroke-width="0.6" stroke-linejoin="round"/>
<path d="M166.7 371.55L169.20 376.45L164.20 376.45Z" fill="#4c1d70" stroke="#111" stroke-width="0.6" stroke-linejoin="round"/>
<path d="M174.1 377.85L176.60 382.75L171.60 382.75Z" fill="#4c1d70" stroke="#111" stroke-width="0.6" stroke-linejoin="round"/>
<path d="M170.3 404.55L172.80 409.45L167.80 409.45Z" fill="#4c1d70" stroke="#111" stroke-width="0.6" stroke-linejoin="round"/>
<circle cx="207" cy="332.9" r="2.3" fill="#2f5290" stroke="#111" stroke-width="0.8"/>
<circle cx="203.6" cy="340.5" r="2.3" fill="#2f5290" stroke="#111" stroke-width="0.8"/>
<circle cx="210.6" cy="339.2" r="2.3" fill="#2f5290" stroke="#111" stroke-width="0.8"/>
<circle cx="207" cy="352.5" r="2.3" fill="#2f5290" stroke="#111" stroke-width="0.8"/>
<circle cx="207" cy="373" r="2.3" fill="#2f5290" stroke="#111" stroke-width="0.8"/>
<circle cx="207" cy="386.7" r="2.3" fill="#2f5290" stroke="#111" stroke-width="0.8"/>
<circle cx="203.6" cy="412" r="2.3" fill="#2f5290" stroke="#111" stroke-width="0.8"/>
<circle cx="210.6" cy="411.1" r="2.3" fill="#2f5290" stroke="#111" stroke-width="0.8"/>
<path d="M229.4 330.95L231.90 335.85L226.90 335.85Z" fill="#4c1d70" stroke="#111" stroke-width="0.6" stroke-linejoin="round"/>
<path d="M232.8 343.15L235.30 348.05L230.30 348.05Z" fill="#4c1d70" stroke="#111" stroke-width="0.6" stroke-linejoin="round"/>
<path d="M225.5 348.55L228.00 353.45L223.00 353.45Z" fill="#4c1d70" stroke="#111" stroke-width="0.6" stroke-linejoin="round"/>
<path d="M225.5 358.45L228.00 363.35L223.00 363.35Z" fill="#4c1d70" stroke="#111" stroke-width="0.6" stroke-linejoin="round"/>
<path d="M233.2 364.35L235.70 369.25L230.70 369.25Z" fill="#4c1d70" stroke="#111" stroke-width="0.6" stroke-linejoin="round"/>
<path d="M229.4 378.15L231.90 383.05L226.90 383.05Z" fill="#4c1d70" stroke="#111" stroke-width="0.6" stroke-linejoin="round"/>
<path d="M229.4 390.95L231.90 395.85L226.90 395.85Z" fill="#4c1d70" stroke="#111" stroke-width="0.6" stroke-linejoin="round"/>
<path d="M229.4 404.45L231.90 409.35L226.90 409.35Z" fill="#4c1d70" stroke="#111" stroke-width="0.6" stroke-linejoin="round"/>
<circle cx="84.5" cy="459.5" r="2.2" fill="#2a4a86" stroke="#111" stroke-width="0.8"/>
<path d="M154.3 457.05L156.80 461.95L151.80 461.95Z" fill="#3f1a5e" stroke="#111" stroke-width="0.6" stroke-linejoin="round"/>
<circle cx="356.3" cy="313.9" r="2.3" fill="#2f5290" stroke="#111" stroke-width="0.8"/>
<circle cx="356.3" cy="325.7" r="2.3" fill="#2f5290" stroke="#111" stroke-width="0.8"/>
<circle cx="360" cy="332.6" r="2.3" fill="#2f5290" stroke="#111" stroke-width="0.8"/>
<circle cx="352.6" cy="337.1" r="2.3" fill="#2f5290" stroke="#111" stroke-width="0.8"/>
<circle cx="352" cy="340.6" r="2.3" fill="#2f5290" stroke="#111" stroke-width="0.8"/>
<circle cx="360.2" cy="339.8" r="2.3" fill="#2f5290" stroke="#111" stroke-width="0.8"/>
<circle cx="356.3" cy="344.8" r="2.3" fill="#2f5290" stroke="#111" stroke-width="0.8"/>
<circle cx="356.3" cy="358.1" r="2.3" fill="#2f5290" stroke="#111" stroke-width="0.8"/>
<path d="M378.3 310.15L380.80 315.05L375.80 315.05Z" fill="#4c1d70" stroke="#111" stroke-width="0.6" stroke-linejoin="round"/>
<path d="M375.1 325.55L377.60 330.45L372.60 330.45Z" fill="#4c1d70" stroke="#111" stroke-width="0.6" stroke-linejoin="round"/>
<path d="M378.3 325.15L380.80 330.05L375.80 330.05Z" fill="#4c1d70" stroke="#111" stroke-width="0.6" stroke-linejoin="round"/>
<path d="M381.7 325.55L384.20 330.45L379.20 330.45Z" fill="#4c1d70" stroke="#111" stroke-width="0.6" stroke-linejoin="round"/>
<path d="M374 330.65L376.50 335.55L371.50 335.55Z" fill="#4c1d70" stroke="#111" stroke-width="0.6" stroke-linejoin="round"/>
<path d="M382.6 332.45L385.10 337.35L380.10 337.35Z" fill="#4c1d70" stroke="#111" stroke-width="0.6" stroke-linejoin="round"/>
<path d="M378.1 333.55L380.60 338.45L375.60 338.45Z" fill="#4c1d70" stroke="#111" stroke-width="0.6" stroke-linejoin="round"/>
<circle cx="415.3" cy="333" r="2.3" fill="#2f5290" stroke="#111" stroke-width="0.8"/>
<circle cx="415.3" cy="363.7" r="2.3" fill="#2f5290" stroke="#111" stroke-width="0.8"/>
<circle cx="411.6" cy="375.9" r="2.3" fill="#2f5290" stroke="#111" stroke-width="0.8"/>
<circle cx="419.3" cy="377" r="2.3" fill="#2f5290" stroke="#111" stroke-width="0.8"/>
<circle cx="415.3" cy="379.3" r="2.3" fill="#2f5290" stroke="#111" stroke-width="0.8"/>
<circle cx="415.3" cy="390.4" r="2.3" fill="#2f5290" stroke="#111" stroke-width="0.8"/>
<circle cx="419" cy="400" r="2.3" fill="#2f5290" stroke="#111" stroke-width="0.8"/>
<circle cx="411.9" cy="402.2" r="2.3" fill="#2f5290" stroke="#111" stroke-width="0.8"/>
<path d="M433.6 328.95L436.10 333.85L431.10 333.85Z" fill="#4c1d70" stroke="#111" stroke-width="0.6" stroke-linejoin="round"/>
<path d="M441.5 331.95L444.00 336.85L439.00 336.85Z" fill="#4c1d70" stroke="#111" stroke-width="0.6" stroke-linejoin="round"/>
<path d="M437.6 336.15L440.10 341.05L435.10 341.05Z" fill="#4c1d70" stroke="#111" stroke-width="0.6" stroke-linejoin="round"/>
<path d="M434.1 352.35L436.60 357.25L431.60 357.25Z" fill="#4c1d70" stroke="#111" stroke-width="0.6" stroke-linejoin="round"/>
<path d="M441.5 352.65L444.00 357.55L439.00 357.55Z" fill="#4c1d70" stroke="#111" stroke-width="0.6" stroke-linejoin="round"/>
<path d="M437.8 381.95L440.30 386.85L435.30 386.85Z" fill="#4c1d70" stroke="#111" stroke-width="0.6" stroke-linejoin="round"/>
<path d="M437.8 389.65L440.30 394.55L435.30 394.55Z" fill="#4c1d70" stroke="#111" stroke-width="0.6" stroke-linejoin="round"/>
<path d="M437.8 400.95L440.30 405.85L435.30 405.85Z" fill="#4c1d70" stroke="#111" stroke-width="0.6" stroke-linejoin="round"/>
<circle cx="474.5" cy="321.7" r="2.3" fill="#2f5290" stroke="#111" stroke-width="0.8"/>
<circle cx="474.3" cy="342.2" r="2.3" fill="#2f5290" stroke="#111" stroke-width="0.8"/>
<circle cx="474.3" cy="363.4" r="2.3" fill="#2f5290" stroke="#111" stroke-width="0.8"/>
<circle cx="470.6" cy="374.8" r="2.3" fill="#2f5290" stroke="#111" stroke-width="0.8"/>
<circle cx="478.4" cy="374.4" r="2.3" fill="#2f5290" stroke="#111" stroke-width="0.8"/>
<circle cx="474.3" cy="377" r="2.3" fill="#2f5290" stroke="#111" stroke-width="0.8"/>
<circle cx="478" cy="404" r="2.3" fill="#2f5290" stroke="#111" stroke-width="0.8"/>
<circle cx="471" cy="406.7" r="2.3" fill="#2f5290" stroke="#111" stroke-width="0.8"/>
<path d="M493.2 357.15L495.70 362.05L490.70 362.05Z" fill="#4c1d70" stroke="#111" stroke-width="0.6" stroke-linejoin="round"/>
<path d="M500.6 358.25L503.10 363.15L498.10 363.15Z" fill="#4c1d70" stroke="#111" stroke-width="0.6" stroke-linejoin="round"/>
<path d="M500.2 368.65L502.70 373.55L497.70 373.55Z" fill="#4c1d70" stroke="#111" stroke-width="0.6" stroke-linejoin="round"/>
<path d="M493.2 372.85L495.70 377.75L490.70 377.75Z" fill="#4c1d70" stroke="#111" stroke-width="0.6" stroke-linejoin="round"/>
<path d="M500.9 375.35L503.40 380.25L498.40 380.25Z" fill="#4c1d70" stroke="#111" stroke-width="0.6" stroke-linejoin="round"/>
<path d="M492.8 381.65L495.30 386.55L490.30 386.55Z" fill="#4c1d70" stroke="#111" stroke-width="0.6" stroke-linejoin="round"/>
<path d="M496.8 381.95L499.30 386.85L494.30 386.85Z" fill="#4c1d70" stroke="#111" stroke-width="0.6" stroke-linejoin="round"/>
<path d="M496.8 397.95L499.30 402.85L494.30 402.85Z" fill="#4c1d70" stroke="#111" stroke-width="0.6" stroke-linejoin="round"/>
<circle cx="355.8" cy="459.5" r="2.2" fill="#2a4a86" stroke="#111" stroke-width="0.8"/>
<path d="M425.5 457.05L428.00 461.95L423.00 461.95Z" fill="#3f1a5e" stroke="#111" stroke-width="0.6" stroke-linejoin="round"/>
<rect x="0.6" y="0.6" width="518.8" height="470.8" fill="none" stroke="#000" stroke-width="1.3"/>
</svg>
</body></html>
